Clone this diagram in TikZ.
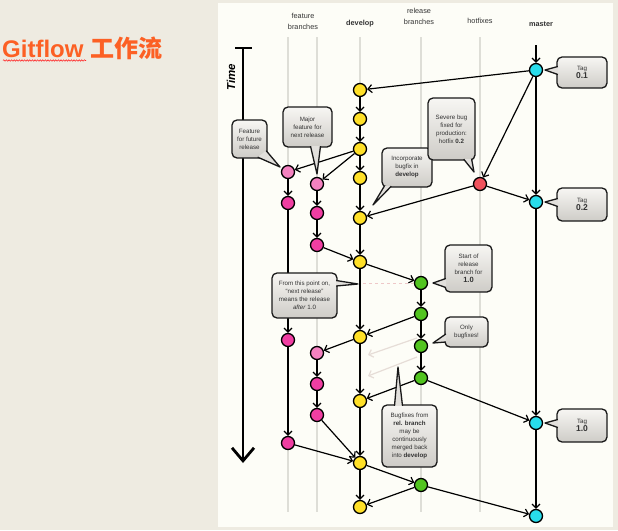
\documentclass[tikz,border=0pt]{standalone}
\usepackage{fontspec}
\setmainfont{Liberation Sans}
\newfontfamily\cjk{Noto Sans CJK SC}
\usetikzlibrary{arrows.meta,decorations.pathmorphing}
\definecolor{PageBg}{RGB}{238,235,225}
\definecolor{PanelBg}{RGB}{253,253,247}
\definecolor{LaneGrey}{RGB}{222,222,215}
\definecolor{TitleOrange}{RGB}{252,96,36}
\definecolor{FillDev}{RGB}{255,224,40}
\definecolor{FillFeat}{RGB}{240,62,162}
\definecolor{FillFeatNew}{RGB}{244,130,192}
\definecolor{FillRel}{RGB}{82,196,32}
\definecolor{FillHot}{RGB}{240,82,92}
\definecolor{FillMaster}{RGB}{40,220,235}
\definecolor{NoteTop}{RGB}{247,246,243}
\definecolor{NoteBot}{RGB}{206,204,199}
\definecolor{NoteTail}{RGB}{226,224,220}
\definecolor{FaintArr}{RGB}{230,221,215}
\definecolor{DashPink}{RGB}{238,200,200}

\begin{document}
\begin{tikzpicture}[
    x=1pt, y=-1pt,
    commit/.style={circle, draw=black, line width=1.3pt, minimum size=13pt, inner sep=0pt},
    dev/.style={commit, fill=FillDev},
    feat/.style={commit, fill=FillFeat},
    featnew/.style={commit, fill=FillFeatNew},
    rel/.style={commit, fill=FillRel},
    hot/.style={commit, fill=FillHot},
    mast/.style={commit, fill=FillMaster},
    arr/.style={-{Straight Barb[length=4pt,width=8pt,line width=1.2pt]}, line width=1.2pt},
    faint/.style={-{Straight Barb[length=4pt,width=8pt,line width=1.2pt]}, line width=1.2pt, FaintArr},
    lane/.style={LaneGrey, line width=2pt},
    head/.style={align=center, inner sep=0pt, font=\fontsize{7.3}{11}\selectfont, text=black!80},
    note/.style={draw=black!90, line width=1.3pt, rounded corners=5pt, top color=NoteTop, bottom color=NoteBot,
                 align=center, inner sep=1pt, font=\fontsize{6.2}{8}\selectfont, text=black!80},
    tail/.style={fill=NoteTail, draw=black!90, line width=1.3pt, line join=round}
]
    % page and picture panel
    \fill[PageBg] (0,0) rectangle (618,530);
    \fill[PanelBg] (218,3) rectangle (613,527);
    \useasboundingbox (0,0) rectangle (618,530);

    % title
    \node[anchor=base west, inner sep=0pt, text=TitleOrange, font=\fontsize{24}{28}\selectfont\bfseries]
        (title) at (2,57) {Gitflow {\cjk 工作流}};
    \draw[red!85, line width=0.6pt, decorate, decoration={snake, amplitude=0.7pt, segment length=2.6pt}]
        (3,60.5) -- (86,60.5);

    % column headers
    \node[head] (hfeat) at (303,21)  {feature\\branches};
    \node[head] (hdev)  at (360,24)  {\textbf{develop}};
    \node[head] (hrel)  at (419,16)  {release\\branches};
    \node[head] (hhot)  at (480,21)  {hotfixes};
    \node[head] (hmas)  at (541,24)  {\textbf{master}};

    % lanes
    \foreach \lx in {288,317,360,421,480}
        \draw[lane] (\lx,37) -- (\lx,512);

    % time axis
    \coordinate (ttop) at (243,48);
    \coordinate (tend) at (243,463);
    \draw[line width=2.6pt] (235,48) -- (252,48);
    \draw[-{Straight Barb[length=13pt,width=22pt,line width=2.8pt]}, line width=2.6pt] (ttop) -- (tend);
    \node[rotate=90, font=\fontsize{11.5}{13}\selectfont\bfseries\itshape] (time) at (231,77) {Time};

    % commits
    \node[dev] (d1)  at (360,90)  {};
    \node[dev] (d2)  at (360,119) {};
    \node[dev] (d3)  at (360,149) {};
    \node[dev] (d4)  at (360,178) {};
    \node[dev] (d5)  at (360,218) {};
    \node[dev] (d6)  at (360,262) {};
    \node[dev] (d7)  at (360,337) {};
    \node[dev] (d8)  at (360,401) {};
    \node[dev] (d9)  at (360,463) {};
    \node[dev] (d10) at (360,507) {};

    \node[featnew] (f1a) at (288,172) {};
    \node[feat]    (f1b) at (288,203) {};
    \node[feat]    (f1c) at (288,340) {};
    \node[feat]    (f1d) at (288,443) {};

    \node[featnew] (f2a) at (317,184) {};
    \node[feat]    (f2b) at (317,213) {};
    \node[feat]    (f2c) at (317,245) {};
    \node[featnew] (f2d) at (317,353) {};
    \node[feat]    (f2e) at (317,384) {};
    \node[feat]    (f2f) at (317,415) {};

    \node[rel] (r1) at (421,283) {};
    \node[rel] (r2) at (421,314) {};
    \node[rel] (r3) at (421,346) {};
    \node[rel] (r4) at (421,378) {};
    \node[rel] (r5) at (421,485) {};

    \node[hot] (h1) at (480,184) {};

    \node[mast] (m1) at (536,70)  {};
    \node[mast] (m2) at (536,202) {};
    \node[mast] (m3) at (536,423) {};
    \node[mast] (m4) at (536,516) {};

    % develop line
    \draw[arr] (d1) -- (d2);
    \draw[arr] (d2) -- (d3);
    \draw[arr] (d3) -- (d4);
    \draw[arr] (d4) -- (d5);
    \draw[arr] (d5) -- (d6);
    \draw[arr] (d6) -- (d7);
    \draw[arr] (d7) -- (d8);
    \draw[arr] (d8) -- (d9);
    \draw[arr] (d9) -- (d10);

    % feature branches
    \draw[arr] (d3) -- (f1a);
    \draw[arr] (d3) -- (f2a);
    \draw[arr] (f1a) -- (f1b);
    \draw[arr] (f1b) -- (f1c);
    \draw[arr] (f1c) -- (f1d);
    \draw[arr] (f1d) -- (d9);
    \draw[arr] (f2a) -- (f2b);
    \draw[arr] (f2b) -- (f2c);
    \draw[arr] (f2c) -- (d6);
    \draw[arr] (d7) -- (f2d);
    \draw[arr] (f2d) -- (f2e);
    \draw[arr] (f2e) -- (f2f);
    \draw[arr] (f2f) -- (d9);

    % release branches
    \draw[arr] (d6) -- (r1);
    \draw[arr] (r1) -- (r2);
    \draw[arr] (r2) -- (r3);
    \draw[arr] (r3) -- (r4);
    \draw[arr] (r2) -- (d7);
    \draw[arr] (r4) -- (d8);
    \draw[arr] (r4) -- (m3);
    \draw[arr] (d9) -- (r5);
    \draw[arr] (r5) -- (d10);
    \draw[arr] (r5) -- (m4);

    % hotfix and master
    \coordinate (mtop) at (536,45);
    \draw[arr] (mtop) -- (m1);
    \draw[arr] (m1) -- (d1);
    \draw[arr] (m1) -- (h1);
    \draw[arr] (m1) -- (m2);
    \draw[arr] (h1) -- (d5);
    \draw[arr] (h1) -- (m2);
    \draw[arr] (m2) -- (m3);
    \draw[arr] (m3) -- (m4);

    % continuous merges and release start marker
    \coordinate (fa1) at (417,338);
    \coordinate (fa1e) at (368,355);
    \coordinate (fa2) at (417,357);
    \coordinate (fa2e) at (368,376);
    \draw[faint] (fa1) -- (fa1e);
    \draw[faint] (fa2) -- (fa2e);
    \coordinate (dsh) at (363,283);
    \draw[DashPink, dashed, line width=1pt] (dsh) -- (r1);

    % notes
    \node[note, minimum width=35pt, minimum height=38pt] (featnote) at (249.5,139) {Feature\\for future\\release};
    \path[tail] ([xshift=-10pt,yshift=1.5pt]featnote.south east) -- (280,167) -- ([xshift=-1.5pt,yshift=8pt]featnote.south east);

    \node[note, minimum width=49pt, minimum height=40pt] (major) at (307.5,127) {Major\\feature for\\next release};
    \path[tail] ([xshift=3pt,yshift=1.5pt]major.south) -- (317,174) -- ([xshift=13pt,yshift=1.5pt]major.south);

    \node[note, minimum width=50pt, minimum height=39pt] (incorp) at (407,167.5) {Incorporate\\bugfix in\\\textbf{develop}};
    \path[tail] ([xshift=3pt,yshift=1.5pt]incorp.south west) -- (373,205) -- ([xshift=10pt,yshift=1.5pt]incorp.south west);

    \node[note, minimum width=47pt, minimum height=62pt] (severe) at (451.5,129) {Severe bug\\fixed for\\production:\\hotfix \textbf{0.2}};
    \path[tail] ([xshift=-12pt,yshift=1.5pt]severe.south east) -- (474,172) -- ([xshift=-4pt,yshift=1.5pt]severe.south east);

    \node[note, minimum width=50pt, minimum height=31pt] (tagA) at (582,72.5) {Tag\\{\fontsize{8.5}{10}\selectfont\bfseries 0.1}};
    \path[tail] ([xshift=1.5pt,yshift=6pt]tagA.west) -- (545,70) -- ([xshift=1.5pt,yshift=-2pt]tagA.west);

    \node[note, minimum width=50pt, minimum height=33pt] (tagB) at (582,204.5) {Tag\\{\fontsize{8.5}{10}\selectfont\bfseries 0.2}};
    \path[tail] ([xshift=1.5pt,yshift=6pt]tagB.west) -- (545,202) -- ([xshift=1.5pt,yshift=-2pt]tagB.west);

    \node[note, minimum width=47pt, minimum height=47pt] (start) at (468.5,268.5) {Start of\\release\\branch for\\{\fontsize{7.5}{9}\selectfont\bfseries 1.0}};
    \path[tail] ([xshift=1.5pt,yshift=-10pt]start.west) -- (433,283) -- ([xshift=1.5pt,yshift=-19pt]start.west);

    \node[note, minimum width=43pt, minimum height=30pt] (only) at (466.5,332) {Only\\bugfixes!};
    \path[tail] ([xshift=1.5pt,yshift=-2pt]only.west) -- (433,343) -- ([xshift=1.5pt,yshift=-10pt]only.west);

    \node[note, minimum width=50pt, minimum height=33pt] (tagC) at (582,425.5) {Tag\\{\fontsize{8.5}{10}\selectfont\bfseries 1.0}};
    \path[tail] ([xshift=1.5pt,yshift=6pt]tagC.west) -- (545,423) -- ([xshift=1.5pt,yshift=-2pt]tagC.west);

    \node[note, minimum width=55pt, minimum height=62pt] (bugfix) at (409.5,436) {Bugfixes from\\\textbf{rel. branch}\\may be\\continuously\\merged back\\into \textbf{develop}};
    \path[tail] ([xshift=-15pt,yshift=-1.5pt]bugfix.north) -- (398,367) -- ([xshift=-7pt,yshift=-1.5pt]bugfix.north);

    \node[note, minimum width=65pt, minimum height=45pt] (from) at (304.5,295.5) {From this point on,\\``next release''\\means the release\\\textit{after} 1.0};
    \path[tail] ([xshift=-1.5pt,yshift=15pt]from.east) -- (358,284) -- ([xshift=-1.5pt,yshift=9.5pt]from.east);
\end{tikzpicture}
\end{document}
